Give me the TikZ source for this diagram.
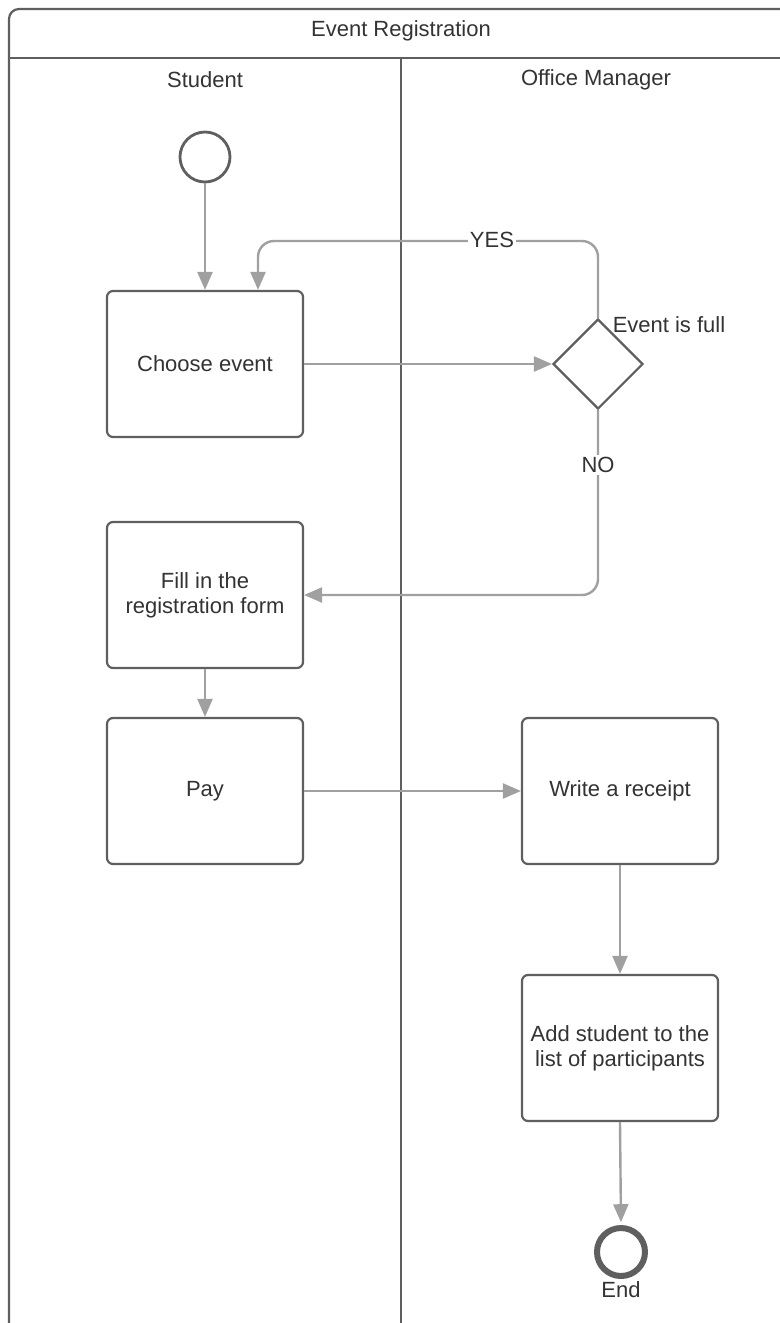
\documentclass[tikz,border=0pt]{standalone}
\usepackage{fontspec}
\setmainfont{Liberation Sans}
\usetikzlibrary{arrows.meta,shapes.geometric}
\definecolor{edgegray}{HTML}{5F5F5F}
\definecolor{linkgray}{HTML}{A0A0A0}
\definecolor{txtgray}{HTML}{333333}
\begin{document}
\begin{tikzpicture}[x=0.5pt,y=-0.5pt,
  font=\fontsize{11}{12.5}\selectfont, text=txtgray,
  pool/.style={draw=edgegray,line width=1.1pt},
  activity/.style={draw=edgegray,line width=1.1pt,rounded corners=3pt,fill=white,
    minimum width=98pt,minimum height=73pt,inner sep=2pt,align=center},
  decision/.style={draw=edgegray,line width=1.1pt,shape=diamond,fill=white,
    minimum size=45pt,inner sep=0pt},
  initial/.style={draw=edgegray,line width=1.4pt,circle,minimum size=25pt,inner sep=0pt},
  final/.style={draw=edgegray,line width=3pt,circle,minimum size=24pt,inner sep=0pt},
  conn/.style={draw=linkgray,line width=1.2pt,-{Triangle[length=9pt,width=7.5pt]}},
  guard/.style={fill=white,inner sep=1pt}]
\useasboundingbox (0,0) rectangle (780,1323);
\clip (0,0) rectangle (780,1323);

% swimlane frame
\draw[pool,rounded corners=5pt] (9,1340) -- (9,9) -- (810,9);
\draw[pool] (9,58) -- (810,58);
\draw[pool] (401,58) -- (401,1340);
\node (pooltitle) at (401,31) {Event Registration};
\node (lanestudent) at (205,80) {Student};
\node (lanemanager) at (596,80) {Office Manager};

% activities
\node[initial] (start) at (205,157) {};
\node[activity] (choose) at (205,364) {Choose event};
\node[decision] (full) at (598,364) {};
\node (fulllabel) at (669,325) {Event is full};
\node[activity] (form) at (205,595) {Fill in the\\registration form};
\node[activity] (pay) at (205,791) {Pay};
\node[activity] (receipt) at (620,791) {Write a receipt};
\node[activity] (addlist) at (620,1048) {Add student to the\\list of participants};
\node[final] (finish) at (621,1252) {};
\node (endlabel) at (621,1290) {End};

% flows
\coordinate (yesturn) at (258,241);
\draw[conn] (start) -- (choose);
\draw[conn] (choose.east) -- (full.west);
\draw[conn,rounded corners=8pt] (full.north) |- (yesturn) -- (yesturn |- choose.north);
\draw[conn,rounded corners=8pt] (full.south) |- (form.east);
\draw[conn] (form) -- (pay);
\draw[conn] (pay.east) -- (receipt.west);
\draw[conn] (receipt) -- (addlist);
\draw[conn,shorten >=1.4pt] (addlist.south) -- (finish.north);

% guards
\node[guard] (yes) at (492,240) {YES};
\node[guard] (no) at (598,465) {NO};
\end{tikzpicture}
\end{document}
